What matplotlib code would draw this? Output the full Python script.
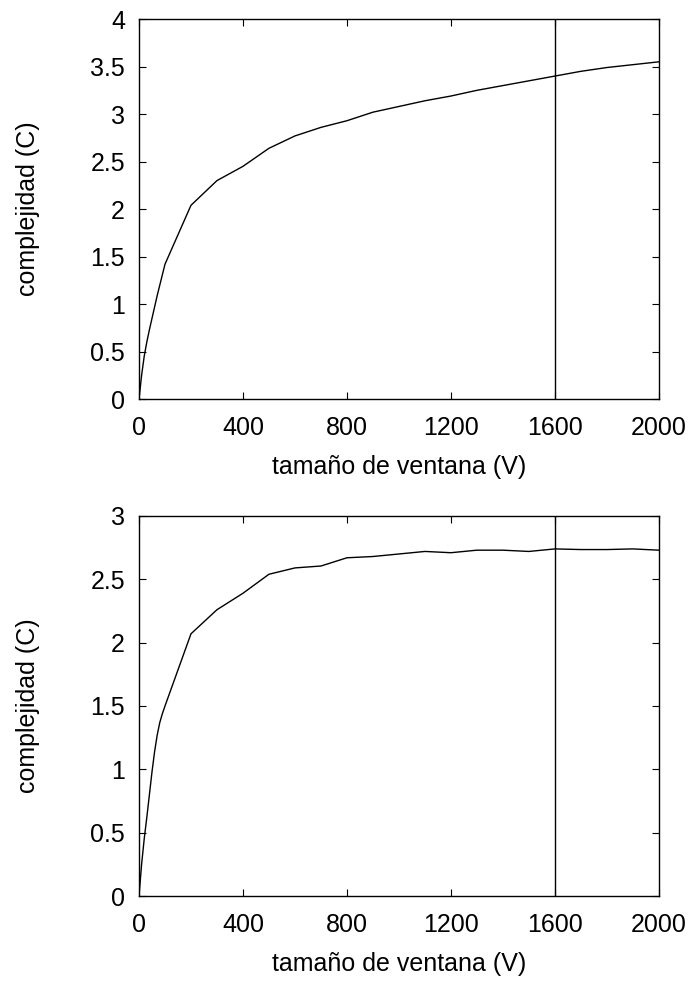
import matplotlib
matplotlib.use('Agg')
import matplotlib.pyplot as plt

# window sizes (V) and complexity (C)
v_top = [0, 10, 20, 30, 40, 50, 60, 70, 80, 90, 100, 200, 300, 400, 500, 600, 700, 800,
         900, 1000, 1100, 1200, 1300, 1400, 1500, 1600, 1700, 1800, 1900, 2000]
c_top = [0, 0.25, 0.45, 0.60, 0.73, 0.85, 0.97, 1.09, 1.20, 1.31, 1.42, 2.04, 2.30, 2.45, 2.64, 2.77, 2.86, 2.93,
         3.02, 3.08, 3.14, 3.19, 3.25, 3.30, 3.35, 3.40, 3.45, 3.49, 3.52, 3.55]

v_bot = [0, 10, 20, 30, 40, 50, 60, 70, 80, 90, 100, 200, 300, 400, 500, 600, 700, 800,
         900, 1000, 1100, 1200, 1300, 1400, 1500, 1600, 1700, 1800, 1900, 2000]
c_bot = [0, 0.25, 0.45, 0.62, 0.80, 0.98, 1.14, 1.27, 1.37, 1.44, 1.50, 2.07, 2.26, 2.39, 2.54, 2.59, 2.605, 2.67,
         2.68, 2.70, 2.72, 2.71, 2.73, 2.73, 2.72, 2.74, 2.735, 2.735, 2.74, 2.73]

v_mark = 1600
xticks = [0, 400, 800, 1200, 1600, 2000]

plt.rcParams['font.family'] = ['Liberation Sans', 'DejaVu Sans']
plt.rcParams['font.size'] = 18

fig = plt.figure(figsize=(6.95, 9.83), dpi=100)
ax1 = fig.add_axes([0.2, 0.594, 0.748, 0.3866])
ax2 = fig.add_axes([0.2, 0.0885, 0.748, 0.3866])

panels = [(ax1, v_top, c_top, 4, [0, 0.5, 1, 1.5, 2, 2.5, 3, 3.5, 4], ['0', '0.5', '1', '1.5', '2', '2.5', '3', '3.5', '4']),
          (ax2, v_bot, c_bot, 3, [0, 0.5, 1, 1.5, 2, 2.5, 3], ['0', '0.5', '1', '1.5', '2', '2.5', '3'])]

for ax, v, c, ymax, yt, ytl in panels:
    ax.plot(v, c, color='black', lw=1.0)
    ax.axvline(v_mark, color='black', lw=1.0)
    ax.set_xlim(0, 2000)
    ax.set_ylim(0, ymax)
    ax.set_xticks(xticks)
    ax.set_yticks(yt)
    ax.set_yticklabels(ytl)
    ax.tick_params(direction='in', length=5, width=0.8, top=True, right=True)
    ax.tick_params(axis='x', pad=12)
    ax.tick_params(axis='y', pad=10)
    for s in ax.spines.values():
        s.set_linewidth(1.0)
    ax.set_xlabel('tamaño de ventana (V)', labelpad=11)
    ax.set_ylabel('complejidad (C)')
    ax.yaxis.set_label_coords(-0.19, 0.5)

fig.savefig('out.png', dpi=100)
